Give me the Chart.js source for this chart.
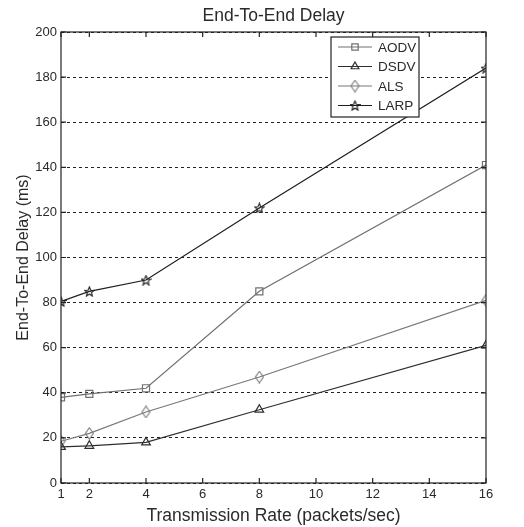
<!DOCTYPE html>
<html>
<head>
<meta charset="utf-8">
<script src="https://cdn.jsdelivr.net/npm/chart.js@4/dist/chart.umd.min.js"></script>
<style>
  html, body { margin: 0; padding: 0; background: #fff; }
  #wrap { width: 524px; height: 527px; }
</style>
</head>
<body>
<div id="wrap"><canvas id="myChart" width="524" height="527"></canvas></div>
<script>
// data
var rates = [1, 2, 4, 8, 16];
var xTicks = [1, 2, 4, 6, 8, 10, 12, 14, 16];
var aodv = [38, 39.5, 42, 85, 141];
var dsdv = [16, 16.5, 18, 32.5, 61];
var als = [18.5, 22, 31.5, 47, 81];
var larp = [80.5, 85, 90, 122, 184];

var names = ['AODV', 'DSDV', 'ALS', 'LARP'];
var colors = ['#707070', '#2e2e2e', '#787878', '#1e1e1e'];
var series = [aodv, dsdv, als, larp];

// hollow star and slim diamond markers like matlab's
function starMark(col) {
  var cv = document.createElement('canvas');
  cv.width = 11; cv.height = 11;
  var g = cv.getContext('2d');
  g.strokeStyle = col; g.lineWidth = 1.1;
  g.beginPath();
  for (var k = 0; k < 10; k++) {
    var r = k % 2 == 0 ? 5 : 2.2;
    var ang = -Math.PI / 2 + k * Math.PI / 5;
    var px = 5.5 + r * Math.cos(ang), py = 6 + r * Math.sin(ang);
    if (k == 0) g.moveTo(px, py); else g.lineTo(px, py);
  }
  g.closePath();
  g.stroke();
  return cv;
}
function diamondMark(col) {
  var cv = document.createElement('canvas');
  cv.width = 11; cv.height = 13;
  var g = cv.getContext('2d');
  g.strokeStyle = col; g.lineWidth = 1.1;
  g.beginPath();
  g.moveTo(5.5, 0.8); g.lineTo(9.5, 6.5); g.lineTo(5.5, 12.2); g.lineTo(1.5, 6.5);
  g.closePath();
  g.stroke();
  return cv;
}
var markers = ['rect', 'triangle', diamondMark(colors[2]), starMark(colors[3])];

function pts(vals) {
  return vals.map(function (v, i) { return { x: rates[i], y: v }; });
}

var datasets = series.map(function (s, i) {
  return {
    label: names[i],
    data: pts(s),
    borderColor: colors[i],
    backgroundColor: 'rgba(0,0,0,0)',
    borderWidth: 1.2,
    pointStyle: markers[i],
    pointRadius: 5,
    pointBorderWidth: 1.2,
    pointBackgroundColor: 'rgba(0,0,0,0)',
    tension: 0
  };
});

var font = 'Liberation Sans, Arial, sans-serif';
var txt = '#2a2a2a';

// matlab-ish frame, inward ticks, title and legend box
var matlabBits = {
  id: 'matlabBits',
  afterDraw: function (chart) {
    var c = chart.ctx, a = chart.chartArea;
    var xs = chart.scales.x, ys = chart.scales.y;
    c.save();
    c.strokeStyle = '#222';
    c.lineWidth = 1.2;
    c.setLineDash([]);
    c.strokeRect(a.left, a.top, a.right - a.left, a.bottom - a.top);
    c.beginPath();
    xTicks.forEach(function (t) {
      var px = xs.getPixelForValue(t);
      c.moveTo(px, a.bottom); c.lineTo(px, a.bottom - 5);
      c.moveTo(px, a.top); c.lineTo(px, a.top + 5);
    });
    for (var v = 0; v <= 200; v += 20) {
      var py = ys.getPixelForValue(v);
      c.moveTo(a.left, py); c.lineTo(a.left + 5, py);
      c.moveTo(a.right, py); c.lineTo(a.right - 5, py);
    }
    c.stroke();

    // title
    c.fillStyle = txt;
    c.font = '17.5px ' + font;
    c.textAlign = 'center';
    c.textBaseline = 'middle';
    c.fillText('End-To-End Delay', (a.left + a.right) / 2, 16);

    // legend box
    var lx = 331, ly = 37, lw = 88, lh = 80;
    c.fillStyle = '#fff';
    c.fillRect(lx, ly, lw, lh);
    c.strokeStyle = '#222';
    c.lineWidth = 1.2;
    c.strokeRect(lx, ly, lw, lh);
    chart.data.datasets.forEach(function (ds, i) {
      var yy = ly + 10 + i * 19.5;
      c.strokeStyle = ds.borderColor;
      c.lineWidth = 1.2;
      c.beginPath();
      c.moveTo(lx + 7, yy); c.lineTo(lx + 41, yy);
      c.stroke();
      c.fillStyle = 'rgba(0,0,0,0)';
      Chart.helpers.drawPoint(c, {
        pointStyle: ds.pointStyle, radius: 4.5, rotation: 0,
        borderWidth: 1.2
      }, lx + 24, yy);
      c.fillStyle = txt;
      c.font = '13.5px ' + font;
      c.textAlign = 'left';
      c.fillText(ds.label, lx + 47, yy + 1);
    });
    c.restore();
  }
};

var ctx = document.getElementById('myChart').getContext('2d');
var chartOne = new Chart(ctx, {
  type: 'line',
  data: { datasets: datasets },
  options: {
    responsive: false,
    animation: false,
    layout: { padding: { top: 32, right: 38, left: 0, bottom: 0 } },
    plugins: {
      legend: { display: false },
      title: { display: false },
      tooltip: { enabled: false }
    },
    scales: {
      x: {
        type: 'linear',
        min: 1, max: 16,
        afterBuildTicks: function (scale) {
          scale.ticks = xTicks.map(function (v) { return { value: v }; });
        },
        afterFit: function (scale) { scale.height = 44; },
        grid: { display: false, drawTicks: false },
        border: { display: false },
        ticks: { color: txt, font: { family: font, size: 13 }, padding: 4, maxRotation: 0 },
        title: {
          display: true, text: 'Transmission Rate (packets/sec)', color: txt,
          font: { family: font, size: 17.5 }, padding: { top: 1, bottom: 0 }
        }
      },
      y: {
        min: 0, max: 200,
        ticks: { stepSize: 20, color: txt, font: { family: font, size: 13 }, padding: 4 },
        afterFit: function (scale) { scale.width = 61; },
        grid: {
          color: '#222', lineWidth: 1, drawTicks: false
        },
        border: { display: false, dash: [3, 3] },
        title: {
          display: true, text: 'End-To-End Delay (ms)', color: txt,
          font: { family: font, size: 16 }, padding: { top: 14, bottom: 0 }
        }
      }
    }
  },
  plugins: [matlabBits]
});
</script>
</body>
</html>
